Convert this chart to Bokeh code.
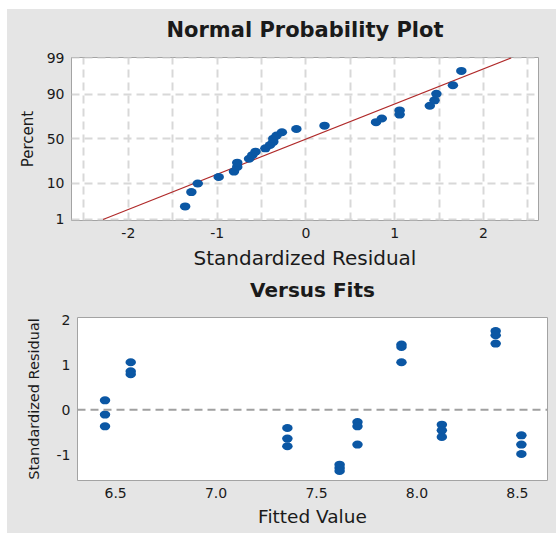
from statistics import NormalDist
import numpy as np
from bokeh.plotting import figure
from bokeh.layouts import column
from bokeh.models import FixedTicker, Span, Range1d, ColumnDataSource, Title
from bokeh.embed import file_html
from bokeh.resources import INLINE

# ---------------- data ----------------
fitted_value = [6.447, 6.447, 6.447,
                6.575, 6.575, 6.575,
                7.355, 7.355, 7.355,
                7.615, 7.615, 7.615,
                7.704, 7.704, 7.704,
                7.923, 7.923, 7.923,
                8.124, 8.124, 8.124,
                8.392, 8.392, 8.392,
                8.520, 8.520, 8.520]
std_residual = [0.21, -0.107, -0.367,
                1.056, 0.855, 0.79,
                -0.404, -0.64, -0.81,
                -1.218, -1.29, -1.36,
                -0.27, -0.367, -0.773,
                1.449, 1.396, 1.056,
                -0.33, -0.456, -0.604,
                1.751, 1.656, 1.47,
                -0.567, -0.773, -0.982]
percent_ticks = [1, 10, 50, 90, 99]
resid_ticks = [-2, -1, 0, 1, 2]
fit_ticks = [6.5, 7.0, 7.5, 8.0, 8.5]
fit_resid_ticks = [-1, 0, 1, 2]

# ---------------- style ----------------
BG = "#e5e5e5"
OUT = "#a3a3a3"
BLUE = "#0b57a4"
RED = "#b02a2a"
GRID = "#d8d8d8"
FONT = "DejaVu Sans"
TXT = "#1a1a1a"
L, R = 64, 9          # common left/right borders (keeps column alignment neutral)
FRAME_H = 163

nd = NormalDist()
n = len(std_residual)
r_sorted = np.sort(np.array(std_residual))
ranks = np.arange(1, n + 1)
z_pos = [nd.inv_cdf((i - 0.3) / (n + 0.4)) for i in ranks]
mu = float(np.mean(r_sorted))
sd = float(np.std(r_sorted, ddof=1))
z_ticks = [nd.inv_cdf(p / 100.0) for p in percent_ticks]
line_z = [z_ticks[0], z_ticks[-1]]
line_x = [mu + sd * z for z in line_z]


def style_axes(p, xsize, ysize, tsize, ylab_standoff):
    for ax in (p.xaxis[0], p.yaxis[0]):
        ax.axis_line_color = None
        ax.major_tick_line_color = None
        ax.minor_tick_line_color = None
        ax.major_tick_out = 0
        ax.major_tick_in = 0
        ax.minor_tick_out = 0
        ax.minor_tick_in = 0
        ax.major_label_standoff = 7
        ax.major_label_text_font = FONT
        ax.major_label_text_font_size = tsize
        ax.major_label_text_color = TXT
        ax.axis_label_text_font = FONT
        ax.axis_label_text_font_style = "normal"
        ax.axis_label_text_color = TXT
    p.xaxis.axis_label_text_font_size = xsize
    p.yaxis.axis_label_text_font_size = ysize
    p.xaxis.axis_label_standoff = 5
    p.yaxis.axis_label_standoff = ylab_standoff
    p.outline_line_color = OUT
    p.outline_line_width = 1
    p.border_fill_color = BG
    p.background_fill_color = "white"


def add_title(p, text, size, gap):
    # spacer (closest to the frame) then the bold title above it
    p.add_layout(Title(text=" ", text_font_size="1px", standoff=gap), "above")
    p.add_layout(Title(text=text, text_font=FONT, text_font_size=size,
                       text_font_style="bold", text_color=TXT, align="center",
                       vertical_align="bottom", standoff=0), "above")


# ---------- Normal probability plot ----------
p1 = figure(width=L + 467 + R, height=48 + FRAME_H + 53, output_backend="svg",
            toolbar_location=None,
            x_range=Range1d(-2.64, 2.62),
            y_range=Range1d(z_ticks[0] - 0.03, z_ticks[-1] + 0.01),
            min_border_left=L, min_border_right=R, min_border_top=48, min_border_bottom=53)
style_axes(p1, "20px", "15px", "14px", 7)
add_title(p1, "Normal Probability Plot", "21px", 13)
p1.xaxis.axis_label = "Standardized Residual"
p1.yaxis.axis_label = "Percent"
p1.xaxis.ticker = FixedTicker(ticks=resid_ticks)
p1.xaxis.major_label_overrides = {t: str(t) for t in resid_ticks}
p1.yaxis.ticker = FixedTicker(ticks=z_ticks)
p1.yaxis.major_label_overrides = {z: str(pc) for z, pc in zip(z_ticks, percent_ticks)}
p1.xgrid.ticker = FixedTicker(ticks=[-2.5, -2, -1.5, -1, -0.5, 0, 0.5, 1, 1.5, 2, 2.5])
p1.ygrid.ticker = FixedTicker(ticks=z_ticks)
for g in (p1.xgrid[0], p1.ygrid[0]):
    g.grid_line_color = GRID
    g.grid_line_dash = "8 5"
    g.grid_line_width = 2

p1.line(line_x, line_z, line_color=RED, line_width=1.2)
src1 = ColumnDataSource(dict(x=r_sorted, y=z_pos))
p1.ellipse(x="x", y="y", width=10.5, height=8, width_units="screen", height_units="screen",
           source=src1, fill_color=BLUE, line_color=None)

# ---------- Versus fits ----------
p2 = figure(width=L + 470 + R, height=44 + FRAME_H + 53, output_backend="svg",
            toolbar_location=None,
            x_range=Range1d(6.31, 8.65), y_range=Range1d(-1.57, 2.05),
            min_border_left=L, min_border_right=R, min_border_top=44, min_border_bottom=53,
            margin=(0, 0, 0, 6))
style_axes(p2, "18.5px", "14.5px", "14px", 12)
add_title(p2, "Versus Fits", "20px", 13)
p2.xaxis.axis_label = "Fitted Value"
p2.yaxis.axis_label = "Standardized Residual"
p2.xaxis.ticker = FixedTicker(ticks=fit_ticks)
p2.xaxis.major_label_overrides = {t: f"{t:.1f}" for t in fit_ticks}
p2.yaxis.ticker = FixedTicker(ticks=fit_resid_ticks)
p2.yaxis.major_label_overrides = {t: str(t) for t in fit_resid_ticks}
p2.xgrid.visible = False
p2.ygrid.visible = False
p2.add_layout(Span(location=0, dimension="width", line_color="#a0a0a0",
                   line_dash="8 5", line_width=2))
src2 = ColumnDataSource(dict(x=fitted_value, y=std_residual))
p2.ellipse(x="x", y="y", width=10.5, height=8, width_units="screen", height_units="screen",
           source=src2, fill_color=BLUE, line_color=None)

layout = column(p1, p2, spacing=0, margin=(9, 0, 0, 7),
                styles={"background-color": BG})
open("out.html", "w").write(file_html(layout, INLINE))
